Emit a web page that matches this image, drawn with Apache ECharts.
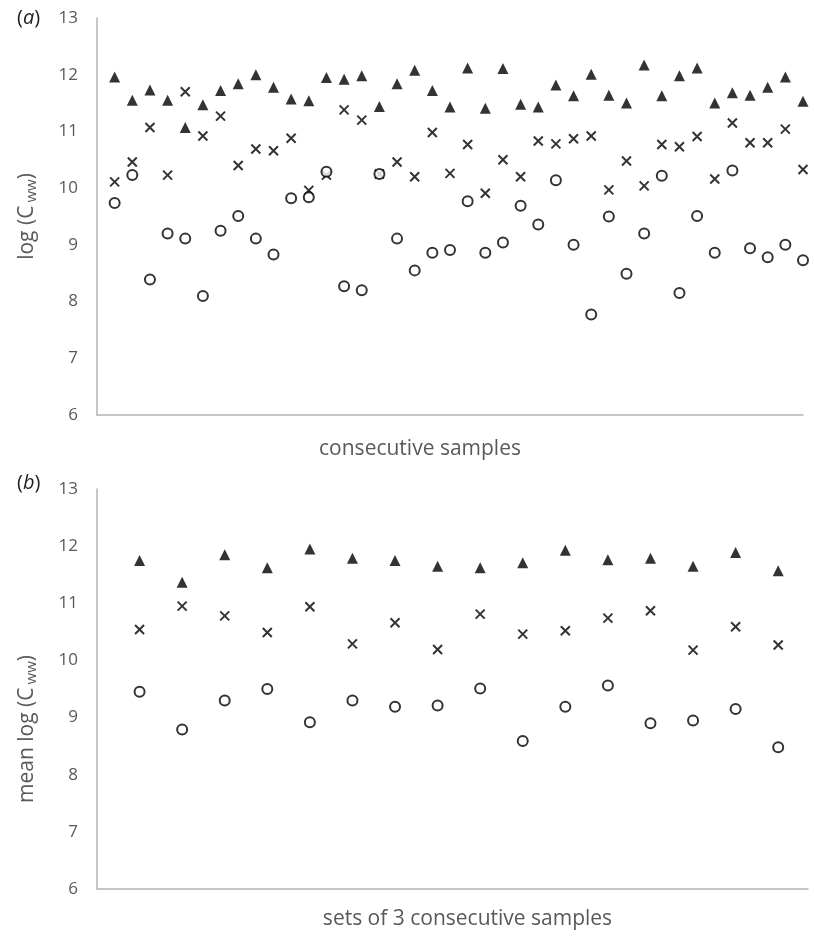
<!DOCTYPE html>
<html>
<head>
<meta charset="utf-8">
<script src="https://cdn.jsdelivr.net/npm/echarts@6/dist/echarts.min.js"></script>
<style>
  html, body { margin: 0; padding: 0; background: #fff; }
  #chart { width: 814px; height: 936px; }
</style>
</head>
<body>
<div id="chart"></div>
<script>
// panel (a): 40 consecutive samples
var samplesTri = [11.96, 11.55, 11.73, 11.55, 11.07, 11.47, 11.72, 11.84, 12.0, 11.78,
                  11.57, 11.54, 11.95, 11.92, 11.98, 11.44, 11.84, 12.08, 11.72, 11.43,
                  12.12, 11.41, 12.11, 11.48, 11.43, 11.82, 11.63, 12.01, 11.64, 11.50,
                  12.17, 11.63, 11.98, 12.12, 11.50, 11.68, 11.64, 11.78, 11.96, 11.53]
var samplesCross = [10.11, 10.46, 11.07, 10.23, 11.70, 10.92, 11.27, 10.40, 10.69, 10.66,
                    10.88, 9.96, 10.23, 11.38, 11.20, 10.25, 10.46, 10.20, 10.98, 10.26,
                    10.77, 9.91, 10.50, 10.20, 10.83, 10.78, 10.87, 10.92, 9.97, 10.48,
                    10.04, 10.77, 10.73, 10.91, 10.16, 11.15, 10.80, 10.80, 11.04, 10.33]
var samplesCircle = [9.74, 10.23, 8.39, 9.20, 9.11, 8.10, 9.25, 9.51, 9.11, 8.83,
                     9.82, 9.84, 10.29, 8.27, 8.20, 10.25, 9.11, 8.55, 8.86, 8.91,
                     9.77, 8.86, 9.04, 9.69, 9.36, 10.14, 9.00, 7.77, 9.50, 8.49,
                     9.20, 10.22, 8.15, 9.51, 8.86, 10.31, 8.94, 8.78, 9.00, 8.73]

// panel (b): 16 sets of 3 consecutive samples
var setsTri = [11.75, 11.37, 11.85, 11.62, 11.95, 11.79, 11.75, 11.65,
               11.62, 11.71, 11.93, 11.76, 11.79, 11.65, 11.89, 11.57]
var setsCross = [10.54, 10.95, 10.78, 10.49, 10.94, 10.29, 10.66, 10.19,
                 10.81, 10.46, 10.52, 10.74, 10.87, 10.18, 10.59, 10.27]
var setsCircle = [9.45, 8.79, 9.30, 9.50, 8.92, 9.30, 9.19, 9.21,
                  9.51, 8.59, 9.19, 9.56, 8.90, 8.95, 9.15, 8.48]

var yTicks = [6, 7, 8, 9, 10, 11, 12, 13]

var textColor = '#595959'
var axisColor = '#b4b4b4'
var fontFamily = '"Open Sans", "Noto Sans", sans-serif'

function pairs(arr) {
    return arr.map(function (v, i) { return [i + 1, v] })
}

function xAxisOf(idx, max, name, gap, pad) {
    return {
        type: 'value', gridIndex: idx, min: 0, max: max, interval: 1,
        axisLine: { show: true, lineStyle: { color: axisColor, width: 1.5 } },
        axisTick: { show: false }, axisLabel: { show: false }, splitLine: { show: false },
        name: name, nameLocation: 'middle', nameGap: gap,
        nameTextStyle: { color: textColor, fontSize: 21, fontFamily: fontFamily, padding: pad }
    }
}

function yAxisOf(idx, name, pad) {
    return {
        type: 'value', gridIndex: idx, min: yTicks[0], max: yTicks[yTicks.length - 1], interval: 1,
        axisLine: { show: true, lineStyle: { color: axisColor, width: 1.5 } },
        axisTick: { show: false }, splitLine: { show: false },
        axisLabel: { color: textColor, fontSize: 17, fontFamily: fontFamily, margin: 19 },
        name: name, nameLocation: 'middle', nameRotate: 90, nameGap: 58,
        nameTextStyle: {
            color: textColor, fontSize: 21, fontFamily: fontFamily, padding: pad,
            rich: { sub: { fontSize: 15, fontFamily: fontFamily, color: textColor, padding: [9, 0, 0, 3] } }
        }
    }
}

var crossPath = 'path://M0,0L10,10M10,0L0,10'

function seriesOf(idx, tri, cross, circ) {
    return [
        {
            type: 'scatter', xAxisIndex: idx, yAxisIndex: idx, data: pairs(tri),
            symbol: 'triangle', symbolSize: 11, itemStyle: { color: '#000' }
        },
        {
            type: 'scatter', xAxisIndex: idx, yAxisIndex: idx, data: pairs(cross),
            symbol: crossPath, symbolSize: 9,
            itemStyle: { color: 'rgba(0,0,0,0)', borderColor: '#000', borderWidth: 2 }
        },
        {
            type: 'scatter', xAxisIndex: idx, yAxisIndex: idx, data: pairs(circ),
            symbol: 'circle', symbolSize: 10,
            itemStyle: { color: '#fff', borderColor: '#000', borderWidth: 2 }
        }
    ]
}

function panelLabel(letter, top) {
    return {
        text: '{p|(}{i|' + letter + '}{p|)}', left: 12, top: top,
        textStyle: { rich: {
            p: { fontSize: 20, color: '#222', fontFamily: fontFamily, fontWeight: 'normal' },
            i: { fontSize: 20, color: '#222', fontFamily: fontFamily, fontWeight: 'normal', fontStyle: 'italic' }
        } }
    }
}

var chart = echarts.init(document.getElementById('chart'), null, { renderer: 'canvas' })
chart.setOption({
    backgroundColor: '#fff',
    animation: false,
    title: [panelLabel('a', 3), panelLabel('b', 468)],
    grid: [
        { left: 97, top: 18, width: 706, height: 397 },
        { left: 97, top: 489, width: 711, height: 400 }
    ],
    xAxis: [
        xAxisOf(0, 40, 'consecutive samples', 24, [0, 60, 0, 0]),
        xAxisOf(1, 16.7, 'sets of 3 consecutive samples', 20, [0, 0, 0, 30])
    ],
    yAxis: [
        yAxisOf(0, 'log (C{sub|ww})', 0),
        yAxisOf(1, 'mean log (C{sub|ww})', [0, 80, 0, 0])
    ],
    series: seriesOf(0, samplesTri, samplesCross, samplesCircle)
        .concat(seriesOf(1, setsTri, setsCross, setsCircle))
})
</script>
</body>
</html>
